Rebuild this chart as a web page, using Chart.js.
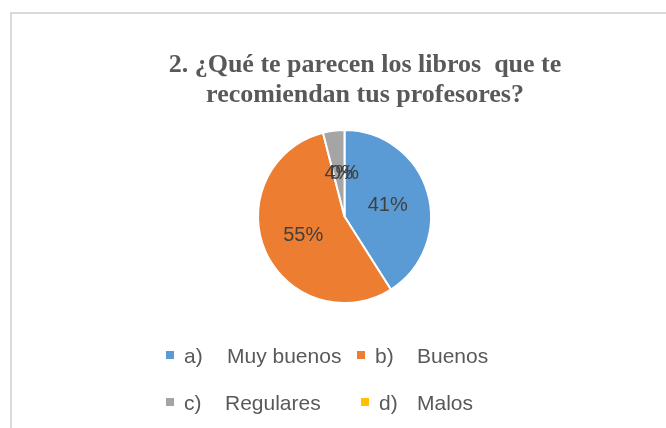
<!DOCTYPE html>
<html><head><meta charset="utf-8">
<script src="https://cdn.jsdelivr.net/npm/chart.js@4"></script>
<style>
html,body{margin:0;padding:0;background:#fff}
#wrap{position:relative;width:666px;height:428px;overflow:hidden}
#frame{position:absolute;left:10px;top:12px;width:700px;height:500px;border-left:2px solid #d9d9d9;border-top:2px solid #d9d9d9}
canvas{position:absolute;left:0;top:0}
</style></head><body>
<div id="wrap"><div id="frame"></div><canvas id="c" width="666" height="428"></canvas></div>
<script>
const titleLines = ["2. ¿Qué te parecen los libros  que te", "recomiendan tus profesores?"];
const categories = ["a)", "b)", "c)", "d)"];
const categoryNames = ["Muy buenos", "Buenos", "Regulares", "Malos"];
const values = [41, 55, 4, 0];
const colors = ["#5B9BD5", "#ED7D31", "#A5A5A5", "#FFC000"];

// legend layout (x of box, row baseline, name offset)
const legendBoxX = [166, 357, 166, 361];
const legendRowY = [355, 355, 402, 402];
const legendNameX = [227, 417, 225, 417];

const overlay = {
  id: 'overlay',
  afterDraw(chart) {
    const ctx = chart.ctx;
    ctx.save();
    // title
    ctx.fillStyle = '#595959';
    ctx.font = 'bold 26px "Liberation Serif", "Times New Roman", serif';
    ctx.textAlign = 'center';
    ctx.textBaseline = 'alphabetic';
    ctx.fillText(titleLines[0], 365, 72);
    ctx.fillText(titleLines[1], 365, 102);

    // data labels
    const meta = chart.getDatasetMeta(0);
    const total = values.reduce((a, b) => a + b, 0);
    ctx.font = '20px "Liberation Sans", Arial, sans-serif';
    ctx.fillStyle = '#404040';
    meta.data.forEach((arc, i) => {
      const p = arc.getProps(['x', 'y', 'startAngle', 'endAngle', 'outerRadius'], true);
      const mid = (p.startAngle + p.endAngle) / 2;
      const r = p.outerRadius * 0.52;
      const x = p.x + Math.cos(mid) * r;
      const y = p.y + Math.sin(mid) * r;
      const txt = Math.round(values[i] / total * 100) + '%';
      ctx.textAlign = 'center';
      ctx.fillText(txt, x, y + 7);
    });

    // legend
    ctx.font = '21px "Liberation Sans", Arial, sans-serif';
    ctx.textAlign = 'left';
    categories.forEach((c, i) => {
      const bx = legendBoxX[i], cy = legendRowY[i];
      ctx.fillStyle = colors[i];
      ctx.fillRect(bx, cy - 4, 8, 8);
      ctx.fillStyle = '#595959';
      ctx.fillText(c, bx + 18, cy + 7.5);
      ctx.fillText(categoryNames[i], legendNameX[i], cy + 7.5);
    });
    ctx.restore();
  }
};

new Chart(document.getElementById('c'), {
  type: 'pie',
  data: {
    labels: categories.map((c, i) => c + '    ' + categoryNames[i]),
    datasets: [{
      data: values,
      backgroundColor: colors,
      borderColor: '#ffffff',
      borderWidth: 2,
      hoverOffset: 0
    }]
  },
  options: {
    responsive: false,
    animation: false,
    devicePixelRatio: 1,
    events: [],
    layout: { padding: { left: 257, right: 234, top: 129, bottom: 124 } },
    plugins: {
      legend: { display: false },
      title: { display: false },
      tooltip: { enabled: false }
    }
  },
  plugins: [overlay]
});
</script>
</body></html>
